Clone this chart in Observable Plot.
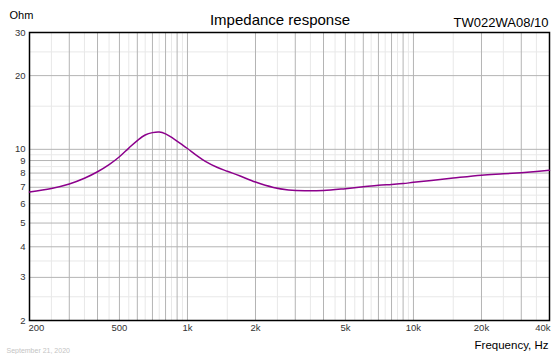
<!DOCTYPE html>
<html>
<head>
<meta charset="utf-8">
<script src="https://cdn.jsdelivr.net/npm/d3@7"></script>
<script src="https://cdn.jsdelivr.net/npm/@observablehq/plot@0.6"></script>
<style>
  html, body { margin: 0; padding: 0; background: #fff; }
  #chart { width: 560px; height: 354px; }
</style>
</head>
<body>
<div id="chart"></div>
<script>
// Impedance curve (Hz, Ohm)
const freq = [200, 250, 300, 350, 400, 450, 500, 550, 600, 650, 700, 750, 800, 870, 950, 1000, 1100, 1200, 1350, 1500, 1700, 2000, 2400, 2800, 3300, 4000, 5000, 6000, 7000, 8000, 9000, 10000, 12000, 15000, 20000, 25000, 30000, 35000, 40000];
const ohm  = [6.69, 6.92, 7.22, 7.62, 8.10, 8.66, 9.33, 10.12, 10.86, 11.44, 11.70, 11.77, 11.57, 11.04, 10.43, 10.08, 9.43, 8.93, 8.45, 8.14, 7.80, 7.35, 6.99, 6.83, 6.77, 6.79, 6.91, 7.03, 7.13, 7.19, 7.25, 7.33, 7.46, 7.63, 7.84, 7.94, 8.03, 8.12, 8.21];

// Axis ticks and labels
const xTicks  = [200, 500, 1000, 2000, 5000, 10000, 20000, 40000];
const xLabels = ["200", "500", "1k", "2k", "5k", "10k", "20k", "40k"];
const yTicks  = [2, 3, 4, 5, 6, 7, 8, 9, 10, 20, 30];

const title = "Impedance response";
const model = "TW022WA08/10";
const yUnit = "Ohm";
const xUnit = "Frequency, Hz";
const dateText = "September 21, 2020";

// grid positions (1..9 x 10^n majors, half-step minors)
const xMajor = [], xMinor = [];
for (const p of [100, 1000, 10000]) {
  for (let k = 1; k <= 9; k++) {
    const v = k * p, h = (k + 0.5) * p;
    if (v >= 200 && v <= 40000) xMajor.push(v);
    if (h > 200 && h < 40000) xMinor.push(h);
  }
}
const yMajor = [], yMinor = [];
for (const p of [1, 10]) {
  for (let k = 1; k <= 9; k++) {
    const v = k * p, h = (k + 0.5) * p;
    if (v >= 2 && v <= 30) yMajor.push(v);
    if (h > 2 && h < 30) yMinor.push(h);
  }
}

const data = freq.map((f, i) => ({f, z: ohm[i]}));
const xLab = xTicks.map((t, i) => ({t, label: xLabels[i], i}));
const last = xTicks.length - 1;
const font = "'Liberation Sans', Arial, Helvetica, sans-serif";

const chart = Plot.plot({
  width: 560,
  height: 354,
  marginTop: 32,
  marginBottom: 34,
  marginLeft: 29,
  marginRight: 11,
  style: {fontFamily: font, fontSize: "9.5px", color: "#333", background: "#fff"},
  x: {type: "log", domain: [200, 40000], axis: null},
  y: {type: "log", domain: [2, 30], axis: null},
  marks: [
    Plot.ruleX(xMinor, {stroke: "#e8e8e8", strokeWidth: 1}),
    Plot.ruleY(yMinor, {stroke: "#e8e8e8", strokeWidth: 1}),
    Plot.ruleX(xMajor, {stroke: "#b4b4b4", strokeWidth: 1}),
    Plot.ruleY(yMajor, {stroke: "#b4b4b4", strokeWidth: 1}),
    Plot.frame({stroke: "#000", strokeWidth: 1.5}),
    Plot.text(yTicks, {y: d => d, text: d => String(d), frameAnchor: "left", textAnchor: "end", dx: -4, fill: "#333", fontSize: 9.5}),
    Plot.text(xLab.filter(d => d.i > 0 && d.i < last), {x: "t", text: "label", frameAnchor: "bottom", textAnchor: "middle", lineAnchor: "top", dy: 4, fill: "#333", fontSize: 9.5}),
    Plot.text(xLab.filter(d => d.i === 0), {x: "t", text: "label", frameAnchor: "bottom", textAnchor: "start", lineAnchor: "top", dx: -1, dy: 4, fill: "#333", fontSize: 9.5}),
    Plot.text(xLab.filter(d => d.i === last), {x: "t", text: "label", frameAnchor: "bottom", textAnchor: "end", lineAnchor: "top", dx: 1, dy: 4, fill: "#333", fontSize: 9.5}),
    Plot.line(data, {x: "f", y: "z", stroke: "#8c008c", strokeWidth: 1.5, curve: "catmull-rom"}),
    Plot.text([title], {text: d => d, frameAnchor: "top-left", textAnchor: "middle", lineAnchor: "bottom", dx: 250.5, dy: -8, fontSize: 15, fill: "#000"}),
    Plot.text([model], {text: d => d, frameAnchor: "top-right", textAnchor: "end", lineAnchor: "bottom", dx: -1, dy: -6, fontSize: 13, fill: "#000"}),
    Plot.text([yUnit], {text: d => d, frameAnchor: "top-left", textAnchor: "start", lineAnchor: "bottom", dx: -20, dy: -14, fontSize: 11, fill: "#000"}),
    Plot.text([xUnit], {text: d => d, frameAnchor: "bottom-right", textAnchor: "end", lineAnchor: "bottom", dx: -1, dy: 28, fontSize: 11.5, fill: "#000"}),
    Plot.text([dateText], {text: d => d, frameAnchor: "bottom-left", textAnchor: "start", lineAnchor: "bottom", dx: -23, dy: 32, fontSize: 7, fill: "#c4c4c4"})
  ]
});
document.getElementById("chart").appendChild(chart);
</script>
</body>
</html>
